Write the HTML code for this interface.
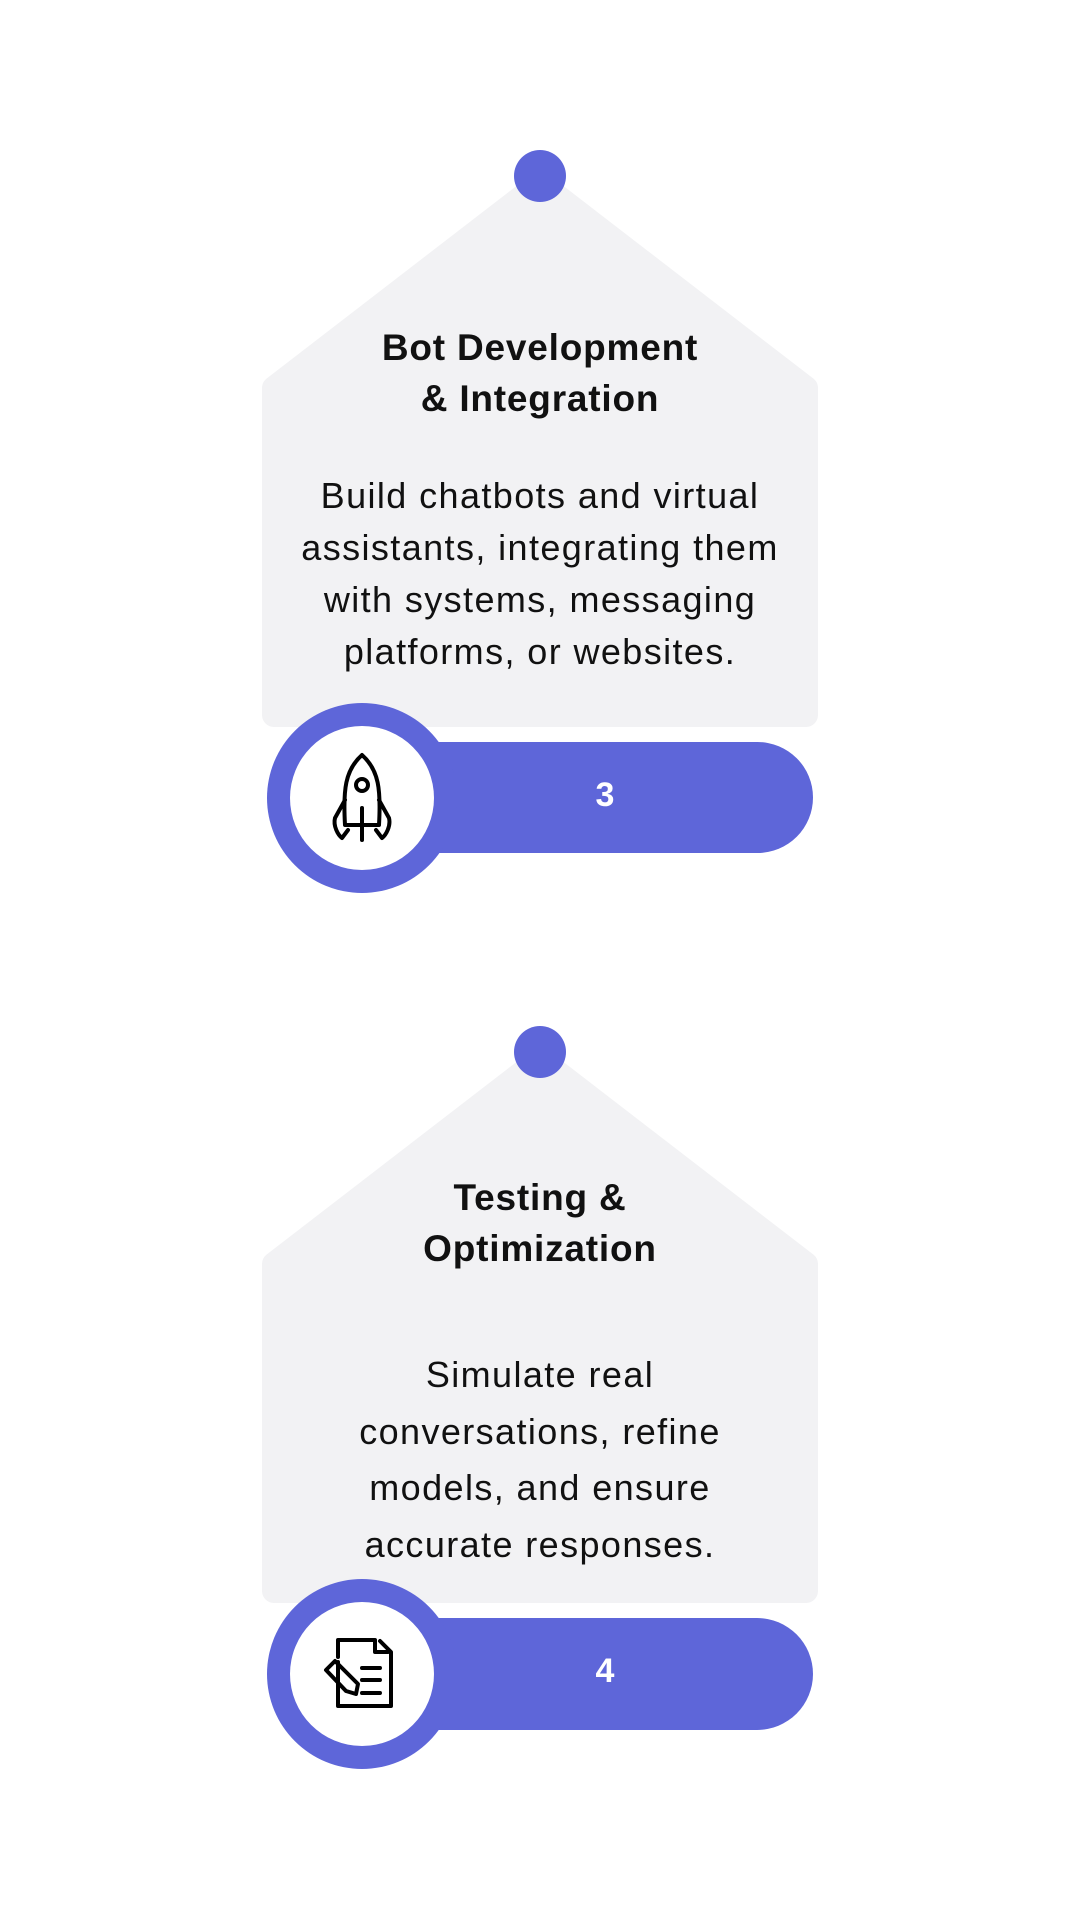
<!DOCTYPE html>
<html><head><meta charset="utf-8"><style>
body{margin:0;width:1080px;height:1920px;background:#fff;position:relative;overflow:hidden;font-family:"Liberation Sans",sans-serif}
.t{position:absolute;left:232px;width:616px;text-align:center;color:#111}
.h{font-weight:bold;font-size:37px;line-height:51px;letter-spacing:0.8px}
.b{font-size:36px;line-height:52px;letter-spacing:1.4px}
.n{position:absolute;color:#fff;font-weight:bold;font-size:34px;width:80px;text-align:center}
</style></head><body>
<svg width="1080" height="1920" style="position:absolute;left:0;top:0">
<g fill="#f2f2f4" stroke="#f2f2f4" stroke-width="24" stroke-linejoin="round">
<path d="M540 183 L806 388 L806 715 L274 715 L274 388 Z"/>
<path d="M540 183 L806 388 L806 715 L274 715 L274 388 Z" transform="translate(0,876)"/>
</g>
<g fill="#5e66d9">
<circle cx="540" cy="176" r="26"/><circle cx="540" cy="1052" r="26"/>
<rect x="361" y="742" width="452" height="111" rx="55.5"/>
<rect x="361" y="1618" width="452" height="112" rx="56"/>
<circle cx="362" cy="798" r="95"/><circle cx="362" cy="1674" r="95"/>
</g>
<g fill="#fff"><circle cx="362" cy="798" r="72"/><circle cx="362" cy="1674" r="72"/></g>
<g fill="none" stroke="#000" stroke-width="4" stroke-linecap="round" stroke-linejoin="round">
<path d="M362 755 C345 770 343 790 345 825 L379 825 C381 790 379 770 362 755 Z"/>
<circle cx="362" cy="785" r="6"/>
<path d="M362 808 V840"/>
<path d="M345 800 L335 818 C333 826 338 835 342 838 L348 830"/>
<path d="M379 800 L389 818 C391 826 386 835 382 838 L376 830"/>
<path d="M338 1662 V1706 H391 V1652 L380 1641 M375 1640 V1652 H388 M338 1657 V1640 H375"/>
<path d="M362 1668 H380 M362 1680 H380 M362 1693 H380"/>
<path d="M326 1670 L335 1661 L358 1684 L356 1694 L346 1691 Z"/>
</g>
</svg>
<div class="t h" style="top:322px">Bot Development<br>&amp; Integration</div>
<div class="t b" style="top:470px">Build chatbots and virtual<br>assistants, integrating them<br>with systems, messaging<br>platforms, or websites.</div>
<div class="n" style="left:565px;top:776px">3</div>
<div class="t h" style="top:1172px">Testing &amp;<br>Optimization</div>
<div class="t b" style="top:1347px;line-height:56.5px">Simulate real<br>conversations, refine<br>models, and ensure<br>accurate responses.</div>
<div class="n" style="left:565px;top:1652px">4</div>
</body></html>
